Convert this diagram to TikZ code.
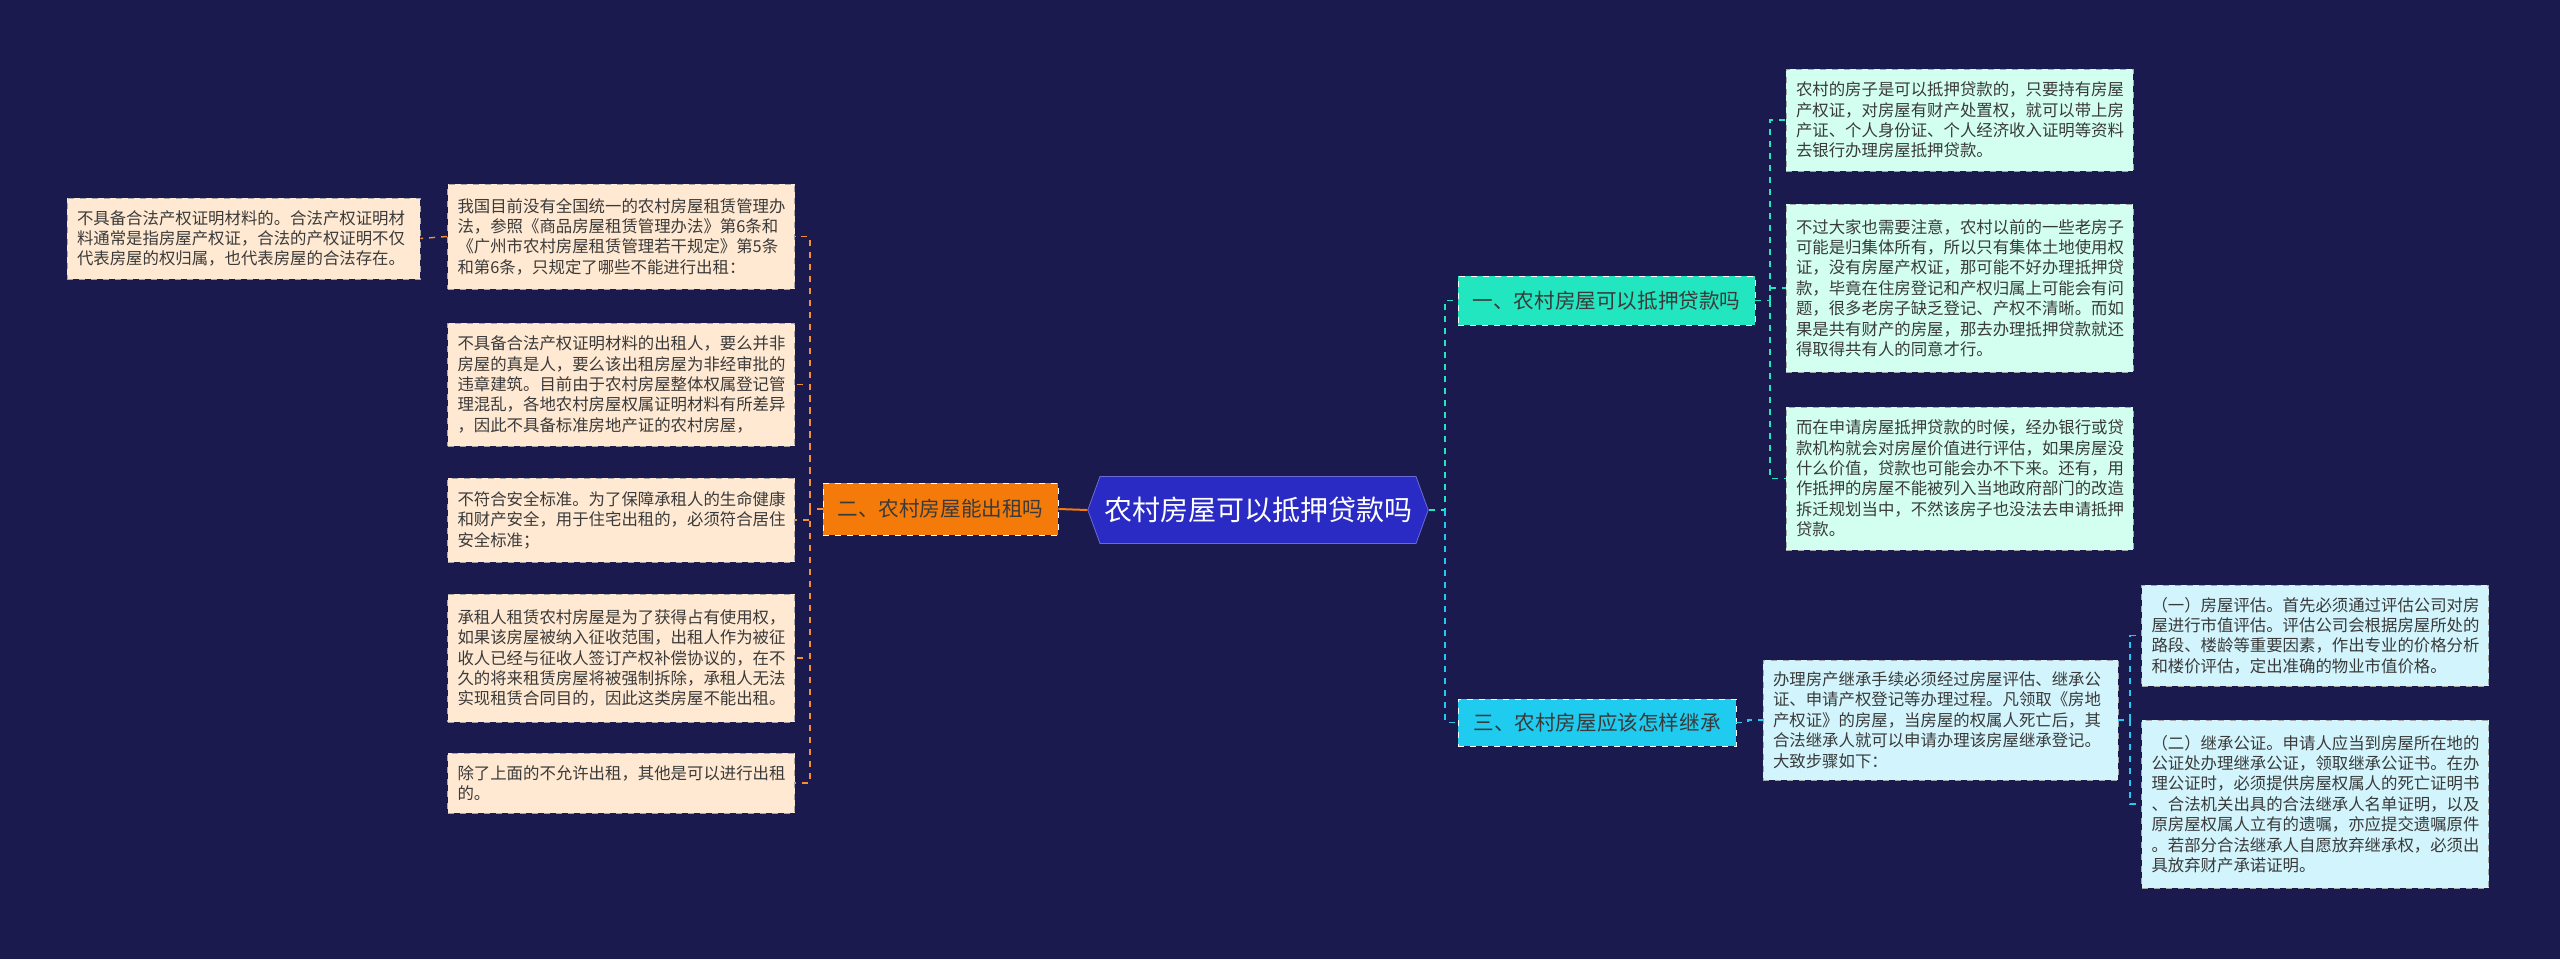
\documentclass[tikz,border=0pt]{standalone}
\usepackage{fontspec}
\setmainfont{Noto Sans CJK SC}
\usetikzlibrary{shapes.symbols}
\definecolor{bg}{HTML}{1B1A4F}
\definecolor{rootc}{HTML}{2A2AC4}
\definecolor{tealc}{HTML}{22E6C0}
\definecolor{cyanc}{HTML}{1FCBEF}
\definecolor{orc}{HTML}{F47B0A}
\definecolor{lfo}{HTML}{FFE9D2}
\definecolor{lft}{HTML}{D2FFF0}
\definecolor{lfc}{HTML}{D2F4FC}
\definecolor{txt}{HTML}{3A3A3A}
\tikzset{
 leaf/.style={draw=gray!70, dashed, align=left, text width=163.5pt, minimum width=173.5pt, inner sep=5pt, text=txt, font=\fontsize{8.2}{10.2}\selectfont},
 leafo/.style={leaf, fill=lfo},
 leaft/.style={leaf, fill=lft},
 leafc/.style={leaf, fill=lfc},
 branch/.style={draw=white!60, dashed, text=txt, font=\fontsize{10.3}{12}\selectfont},
 lko/.style={draw=orc!85!white, dashed, line width=0.7pt},
 lkt/.style={draw=tealc, dashed, line width=0.7pt},
 lkc/.style={draw=cyanc, dashed, line width=0.7pt},
}
\begin{document}
\begin{tikzpicture}[x=0.5pt,y=-0.5pt]
\fill[bg] (0,0) rectangle (2560,959);
\useasboundingbox (0,0) rectangle (2560,959);
\node[signal, signal to=east and west, signal pointer angle=140, fill=rootc, draw=rootc!70!white, minimum width=168.5pt, minimum height=33.5pt, inner sep=2pt, text=white, font=\fontsize{14}{16}\selectfont] (root) at (1258,510) {农村房屋可以抵押贷款吗};
\node[branch, fill=tealc, minimum width=148.5pt, minimum height=24.5pt] (B1) at (1606.5,300.5) {一、农村房屋可以抵押贷款吗};
\node[branch, fill=cyanc, minimum width=139pt, minimum height=23.5pt] (B3) at (1597,722.5) {三、农村房屋应该怎样继承};
\node[branch, fill=orc, minimum width=117.5pt, minimum height=26pt] (B2) at (940.5,509) {二、农村房屋能出租吗};

\node[leaft, minimum height=51pt] (R1) at (1959.5,120) {农村的房子是可以抵押贷款的，只要持有房屋\\产权证，对房屋有财产处置权，就可以带上房\\产证、个人身份证、个人经济收入证明等资料\\去银行办理房屋抵押贷款。};
\node[leaft, minimum height=84pt] (R2) at (1959.5,288) {不过大家也需要注意，农村以前的一些老房子\\可能是归集体所有，所以只有集体土地使用权\\证，没有房屋产权证，那可能不好办理抵押贷\\款，毕竟在住房登记和产权归属上可能会有问\\题，很多老房子缺乏登记、产权不清晰。而如\\果是共有财产的房屋，那去办理抵押贷款就还\\得取得共有人的同意才行。};
\node[leaft, minimum height=71.5pt] (R3) at (1959.5,478.5) {而在申请房屋抵押贷款的时候，经办银行或贷\\款机构就会对房屋价值进行评估，如果房屋没\\什么价值，贷款也可能会办不下来。还有，用\\作抵押的房屋不能被列入当地政府部门的改造\\拆迁规划当中，不然该房子也没法去申请抵押\\贷款。};

\node[leafc, minimum width=177.5pt, text width=167.5pt, minimum height=60pt] (B3c) at (1940.5,720) {办理房产继承手续必须经过房屋评估、继承公\\证、申请产权登记等办理过程。凡领取《房地\\产权证》的房屋，当房屋的权属人死亡后，其\\合法继承人就可以申请办理该房屋继承登记。\\大致步骤如下：};
\node[leafc, minimum height=50.5pt] (C1) at (2315,635.5) {（一）房屋评估。首先必须通过评估公司对房\\屋进行市值评估。评估公司会根据房屋所处的\\路段、楼龄等重要因素，作出专业的价格分析\\和楼价评估，定出准确的物业市值价格。};
\node[leafc, minimum height=84pt] (C2) at (2315,804) {（二）继承公证。申请人应当到房屋所在地的\\公证处办理继承公证，领取继承公证书。在办\\理公证时，必须提供房屋权属人的死亡证明书\\、合法机关出具的合法继承人名单证明，以及\\原房屋权属人立有的遗嘱，亦应提交遗嘱原件\\。若部分合法继承人自愿放弃继承权，必须出\\具放弃财产承诺证明。};

\node[leafo, minimum height=52.5pt] (L1) at (621,236.5) {我国目前没有全国统一的农村房屋租赁管理办\\法，参照《商品房屋租赁管理办法》第6条和\\《广州市农村房屋租赁管理若干规定》第5条\\和第6条，只规定了哪些不能进行出租：};
\node[leafo, minimum height=61.5pt] (L2) at (621,384.5) {不具备合法产权证明材料的出租人，要么并非\\房屋的真是人，要么该出租房屋为非经审批的\\违章建筑。目前由于农村房屋整体权属登记管\\理混乱，各地农村房屋权属证明材料有所差异\\，因此不具备标准房地产证的农村房屋，};
\node[leafo, minimum height=42pt] (L3) at (621,520) {不符合安全标准。为了保障承租人的生命健康\\和财产安全，用于住宅出租的，必须符合居住\\安全标准；};
\node[leafo, minimum height=64pt] (L4) at (621,658) {承租人租赁农村房屋是为了获得占有使用权，\\如果该房屋被纳入征收范围，出租人作为被征\\收人已经与征收人签订产权补偿协议的，在不\\久的将来租赁房屋将被强制拆除，承租人无法\\实现租赁合同目的，因此这类房屋不能出租。};
\node[leafo, minimum height=30pt] (L5) at (621,783) {除了上面的不允许出租，其他是可以进行出租\\的。};
\node[leafo, minimum width=176.5pt, text width=166.5pt, minimum height=40.5pt] (FL) at (243.5,238.5) {不具备合法产权证明材料的。合法产权证明材\\料通常是指房屋产权证，合法的产权证明不仅\\代表房屋的权归属，也代表房屋的合法存在。};

\coordinate (j1) at (1445,510);
\coordinate (k1) at (1770,300.5);
\coordinate (k3) at (1748,722.5);
\coordinate (m3) at (2130,720);
\coordinate (k2) at (810,509);

\draw[lkt] (root.east) -- (j1) |- (B1.west);
\draw[lkc] (j1) |- (B3.west);
\draw[draw=orc, line width=1pt] (root.west) -- (B2.east);
\draw[lkt] (B1.east) -- (k1) |- (R1.west);
\draw[lkt] (k1) |- (R2.west);
\draw[lkt] (k1) |- (R3.west);
\draw[lkc] (B3.east) -- (k3) |- (B3c.west);
\draw[lkc] (B3c.east) -- (m3) |- (C1.west);
\draw[lkc] (m3) |- (C2.west);
\draw[lko] (B2.west) -- (k2) |- (L1.east);
\draw[lko] (k2) |- (L2.east);
\draw[lko] (k2) |- (L3.east);
\draw[lko] (k2) |- (L4.east);
\draw[lko] (k2) |- (L5.east);
\draw[lko] (L1.west) -- (FL.east);
\end{tikzpicture}
\end{document}
